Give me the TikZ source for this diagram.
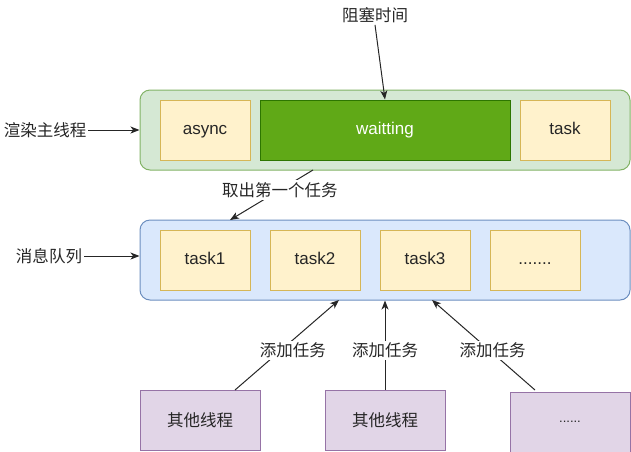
\documentclass[tikz,border=0pt]{standalone}
\usepackage{fontspec}
\setmainfont{Liberation Sans}
\newfontfamily\cjk{Noto Sans CJK SC}
\usetikzlibrary{arrows.meta}

\definecolor{zhufill}{HTML}{D5E8D4}
\definecolor{zhuline}{HTML}{82B366}
\definecolor{duifill}{HTML}{DAE8FC}
\definecolor{duiline}{HTML}{6C8EBF}
\definecolor{renfill}{HTML}{FFF2CC}
\definecolor{renline}{HTML}{D6B656}
\definecolor{dengfill}{HTML}{60A917}
\definecolor{dengline}{HTML}{2D7600}
\definecolor{xianfill}{HTML}{E1D5E7}
\definecolor{xianline}{HTML}{9673A6}

\begin{document}
\begin{tikzpicture}[x=1pt, y=-1pt,
    font=\fontsize{17}{20}\selectfont, text=black!85,
    rongqi/.style={draw, rounded corners=10pt, line width=1pt, inner sep=0pt,
                   minimum width=490pt, minimum height=80pt},
    renwu/.style={draw=renline, fill=renfill, line width=1pt, inner sep=0pt,
                  minimum width=90pt, minimum height=60pt, text height=12pt, text depth=4pt},
    xiancheng/.style={draw=xianline, fill=xianfill, line width=1pt, inner sep=0pt,
                      minimum width=120pt, minimum height=60pt, font=\cjk\fontsize{16.5}{19}\selectfont},
    biaoqian/.style={font=\cjk\fontsize{16.5}{19}\selectfont, inner sep=2pt},
    jiantou/.style={-{Stealth[length=9pt, width=7pt, inset=2.5pt]}, line width=1pt, black!85}
  ]
    \useasboundingbox (0,0) rectangle (631,451);

    % main thread
    \node[rongqi, draw=zhuline, fill=zhufill] (zhu) at (385,130) {};
    \node[renwu] (async) at (205,130) {async};
    \node[renwu, draw=dengline, fill=dengfill, minimum width=250pt, text=white] (deng) at (385,130) {waitting};
    \node[renwu] (task) at (565,130) {task};

    % message queue
    \node[rongqi, draw=duiline, fill=duifill] (dui) at (385,260) {};
    \node[renwu] (t1) at (205,260) {task1};
    \node[renwu] (t2) at (315,260) {task2};
    \node[renwu] (t3) at (425,260) {task3};
    \node[renwu] (t4) at (535,260) {.......};

    % other threads
    \node[xiancheng] (xc1) at (200,420) {其他线程};
    \node[xiancheng] (xc2) at (385,420) {其他线程};
    \node[xiancheng, font=\fontsize{13}{15}\selectfont] (xc3) at (570,422) {......};

    % side labels
    \node[biaoqian] (zuse) at (375,15) {阻塞时间};
    \node[biaoqian] (xuanran) at (45,130) {渲染主线程};
    \node[biaoqian] (xiaoxi) at (49,256) {消息队列};

    \coordinate (qu) at (313,170);
    \coordinate (ru) at (230,220);
    \coordinate (c1) at (235,390);
    \coordinate (d1) at (339,300);
    \coordinate (c3) at (535,390);
    \coordinate (d3) at (432,300);

    \draw[jiantou] (zuse.south) -- (deng.north);
    \draw[jiantou] (xuanran.east) -- (zhu.west);
    \draw[jiantou] (xiaoxi.east) -- (xiaoxi.east -| dui.west);
    \draw[jiantou] (qu) -- node[biaoqian, fill=white, pos=0.4] {取出第一个任务} (ru);
    \draw[jiantou] (c1) -- node[biaoqian, fill=white, pos=0.44, xshift=12pt] {添加任务} (d1);
    \draw[jiantou] (xc2.north) -- node[biaoqian, fill=white, pos=0.44] {添加任务} (dui.south);
    \draw[jiantou] (c3) -- node[biaoqian, fill=white, pos=0.44, xshift=3pt] {添加任务} (d3);
\end{tikzpicture}
\end{document}
